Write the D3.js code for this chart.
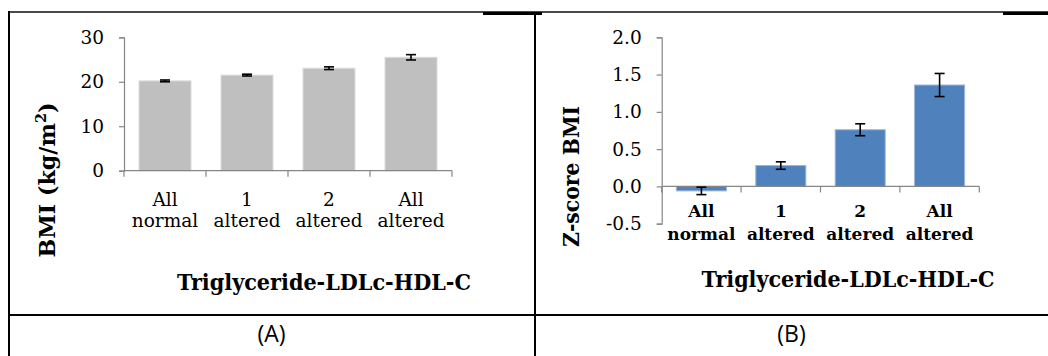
<!DOCTYPE html>
<html>
<head>
<meta charset="utf-8">
<script src="https://cdn.jsdelivr.net/npm/d3@7"></script>
<style>
  html, body { margin: 0; padding: 0; background: #fff; }
  svg { display: block; }
</style>
</head>
<body>
<svg id="chart" width="1048" height="356"></svg>
<script>
// ---- data ----
const categories = [["All", "normal"], ["1", "altered"], ["2", "altered"], ["All", "altered"]];
const bmiMean = [20.2, 21.5, 23.05, 25.5];
const bmiErr = [0.2, 0.2, 0.3, 0.6];
const zMean = [-0.06, 0.28, 0.76, 1.36];
const zErr = [0.05, 0.05, 0.08, 0.155];
const bmiTicks = [0, 10, 20, 30];
const zTicks = [-0.5, 0, 0.5, 1.0, 1.5, 2.0];
const xTitle = "Triglyceride-LDLc-HDL-C";
const panelLabels = ["(A)", "(B)"];

const svg = d3.select("#chart");
const serif = "'DejaVu Serif', 'Liberation Serif', serif";
const axisColor = "#868686";

// ---- table frame ----
const frame = svg.append("g");
frame.append("rect").attr("x", 8).attr("y", 11).attr("width", 1040).attr("height", 2)
  .attr("fill", "#4a4a4a");
[[483, 542], [1003, 1048]].forEach(s => {
  frame.append("rect").attr("x", s[0]).attr("y", 12).attr("width", s[1] - s[0]).attr("height", 3)
    .attr("fill", "#000");
});
frame.append("rect").attr("x", 8).attr("y", 11).attr("width", 2).attr("height", 345).attr("fill", "#000");
frame.append("rect").attr("x", 534).attr("y", 12).attr("width", 2).attr("height", 344).attr("fill", "#000");
frame.append("rect").attr("x", 8).attr("y", 314).attr("width", 1040).attr("height", 2).attr("fill", "#000");

// panel labels
[[271.5, panelLabels[0]], [791.5, panelLabels[1]]].forEach(p => {
  svg.append("text").attr("x", p[0]).attr("y", 342).attr("text-anchor", "middle")
    .attr("font-family", "'Open Sans', 'Liberation Sans', sans-serif").attr("font-size", 23).attr("fill", "#000")
    .text(p[1]);
});

function drawPanel(cfg) {
  const g = svg.append("g");
  const x = d3.scaleBand().domain(d3.range(categories.length))
    .range([cfg.x0, cfg.x1]).paddingInner(cfg.pad).paddingOuter(cfg.pad / 2);
  const y = d3.scaleLinear().domain(cfg.domain).range([cfg.yBottom, cfg.yTop]);

  // y axis
  const yAxis = d3.axisLeft(y).tickValues(cfg.ticks).tickSize(5).tickPadding(15)
    .tickFormat(cfg.fmt);
  const ya = g.append("g").attr("transform", `translate(${cfg.x0},0)`).call(yAxis);
  ya.select(".domain").attr("stroke", axisColor).attr("stroke-width", 1.2);
  ya.selectAll(".tick line").attr("stroke", axisColor).attr("stroke-width", 1.2);
  ya.selectAll(".tick text").attr("font-family", serif).attr("font-size", cfg.tickFont).attr("fill", "#000");

  // bars
  const zero = y(0);
  g.selectAll("rect.bar").data(cfg.values).enter().append("rect")
    .attr("x", (d, i) => x(i))
    .attr("width", x.bandwidth())
    .attr("y", d => Math.min(y(d), zero))
    .attr("height", d => Math.abs(y(d) - zero))
    .attr("fill", cfg.color)
    .attr("stroke", cfg.edge).attr("stroke-width", 1);

  // x axis (at zero), boundary ticks
  const xa = g.append("g");
  xa.append("line").attr("x1", cfg.x0).attr("x2", cfg.x1).attr("y1", zero).attr("y2", zero)
    .attr("stroke", axisColor).attr("stroke-width", 1.2);
  const bounds = d3.range(categories.length + 1).map(i => cfg.x0 + i * x.step());
  xa.selectAll("line.tk").data(bounds).enter().append("line")
    .attr("x1", d => d).attr("x2", d => d).attr("y1", zero).attr("y2", zero + 6)
    .attr("stroke", axisColor).attr("stroke-width", 1.2);

  // error bars
  const eb = g.append("g").attr("stroke", "#000").attr("stroke-width", 1.6);
  cfg.values.forEach((v, i) => {
    const cx = x(i) + x.bandwidth() / 2;
    const lo = y(v - cfg.errs[i]), hi = y(v + cfg.errs[i]);
    eb.append("line").attr("x1", cx).attr("x2", cx).attr("y1", lo).attr("y2", hi);
    eb.append("line").attr("x1", cx - 5).attr("x2", cx + 5).attr("y1", lo).attr("y2", lo);
    eb.append("line").attr("x1", cx - 5).attr("x2", cx + 5).attr("y1", hi).attr("y2", hi);
  });

  // category labels
  categories.forEach((c, i) => {
    const cx = x(i) + x.bandwidth() / 2;
    c.forEach((line, j) => {
      g.append("text").attr("x", cx).attr("y", cfg.catY[j]).attr("text-anchor", "middle")
        .attr("font-family", serif).attr("font-size", cfg.catFont)
        .attr("font-weight", cfg.catBold ? "bold" : "normal").attr("fill", "#000").text(line);
    });
  });

  // x title
  g.append("text").attr("x", cfg.xt[0]).attr("y", cfg.xt[1]).attr("text-anchor", "middle")
    .attr("font-family", serif).attr("font-weight", "bold").attr("font-size", 23)
    .attr("textLength", cfg.xt[2]).attr("lengthAdjust", "spacingAndGlyphs")
    .attr("fill", "#000").text(xTitle);

  // y title
  const yt = g.append("text")
    .attr("transform", `translate(${cfg.yt[0]},${cfg.yt[1]}) rotate(-90)`)
    .attr("text-anchor", "middle")
    .attr("font-family", serif).attr("font-weight", "bold").attr("font-size", 23)
    .attr("textLength", cfg.yt[2]).attr("lengthAdjust", "spacingAndGlyphs")
    .attr("fill", "#000");
  cfg.ytitle(yt);
}

drawPanel({
  x0: 124, x1: 452, pad: 0.366,
  domain: [0, 30], yBottom: 170.7, yTop: 37.3,
  ticks: bmiTicks, fmt: d => String(d), tickFont: 18.5,
  values: bmiMean, errs: bmiErr,
  color: "#bfbfbf", edge: "#dcdcdc",
  catY: [206, 227], catFont: 18.5, catBold: false,
  xt: [324, 290, 294],
  yt: [55, 180, 155],
  ytitle: t => {
    t.append("tspan").text("BMI (kg/m");
    t.append("tspan").attr("baseline-shift", "super").attr("font-size", 15).text("2");
    t.append("tspan").text(")");
  }
});

drawPanel({
  x0: 661.7, x1: 979.3, pad: 0.37,
  domain: [-0.5, 2.0], yBottom: 223.7, yTop: 37.3,
  ticks: zTicks, fmt: d => d.toFixed(1), tickFont: 18.5,
  values: zMean, errs: zErr,
  color: "#4f81bd", edge: "#9bb5d8",
  catY: [217, 240], catFont: 17, catBold: true,
  xt: [848, 287, 293],
  yt: [579, 176.5, 141],
  ytitle: t => { t.text("Z-score BMI"); }
});
</script>
</body>
</html>
